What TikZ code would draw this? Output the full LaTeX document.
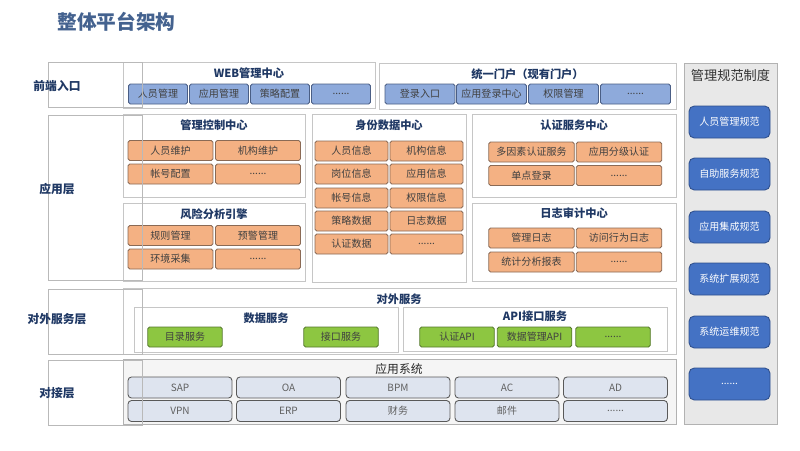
\documentclass[tikz,border=0pt]{standalone}
\usepackage{fontspec}
\setmainfont{Noto Sans CJK SC}
\usetikzlibrary{fit}
\definecolor{navy}{HTML}{1F3864}
\definecolor{slate}{HTML}{44628F}
\definecolor{frontfill}{HTML}{8EAADB}
\definecolor{frontline}{HTML}{4A5E85}
\definecolor{orfill}{HTML}{F4B183}
\definecolor{orline}{HTML}{8A6A55}
\definecolor{grfill}{HTML}{8DC641}
\definecolor{grline}{HTML}{55792C}
\definecolor{sysfill}{HTML}{DEE4EF}
\definecolor{rbfill}{HTML}{4472C4}
\definecolor{rbline}{HTML}{2F4F8C}
\newcommand\moredots{......}
\tikzset{
  panel/.style={draw=gray!45, fill=white, inner sep=0pt, line width=0.5pt},
  layerbox/.style={draw=gray!55, inner sep=0pt, line width=0.5pt},
  ttl/.style={text=navy, font=\bfseries\fontsize{6.4}{7}\selectfont},
  layer/.style={text=navy, font=\bfseries\fontsize{6.7}{7}\selectfont},
  item/.style={rounded corners=1pt, inner sep=0pt, minimum height=0.4cm, text=black!75, font=\fontsize{5.7}{6}\selectfont, line width=0.5pt},
  frontbox/.style={item, draw=frontline, fill=frontfill},
  orbox/.style={item, draw=orline, fill=orfill},
  grbox/.style={item, draw=grline, fill=grfill, minimum width=1.49cm},
  sysbox/.style={item, draw=gray!70!black, fill=sysfill, rounded corners=2pt, minimum width=2.08cm, minimum height=0.42cm, text=gray!75!black},
  rulebox/.style={item, draw=rbline, fill=rbfill, rounded corners=3pt, minimum width=1.62cm, minimum height=0.64cm, text=white}
}
\begin{document}
\begin{tikzpicture}[x=0.02cm, y=-0.02cm]
\useasboundingbox (0,0) rectangle (800,450);
\node[anchor=west, inner sep=0pt, text=slate, font=\bfseries\fontsize{11.2}{12}\selectfont] (title) at (57,22) {整体平台架构};

\node[panel, fill=gray!18, draw=gray!60, fit={(684,63) (777,424)}] (rules) {};
\node[text=gray!40!black, font=\fontsize{7.5}{8}\selectfont] (rulesttl) at (730.5,75) {管理规范制度};
\foreach \y/\t [count=\i] in {122/人员管理规范, 174/自助服务规范, 227/应用集成规范, 279/系统扩展规范, 332/系统运维规范, 384/\moredots}
  \node[rulebox] (rule\i) at (729.5,\y) {\t};

\node[panel, fit={(123,62) (375,108)}] (web) {};
\node[ttl] (webttl) at (249,73) {WEB管理中心};
\foreach \x/\t [count=\i] in {158/人员管理, 219/应用管理, 280/策略配置, 341/\moredots}
  \node[frontbox, minimum width=1.18cm] (web\i) at (\x,94) {\t};

\node[panel, fit={(379,63) (676,109)}] (portal) {};
\node[ttl] (portalttl) at (527.5,74) {统一门户（现有门户）};
\foreach \x/\t [count=\i] in {420/登录入口, 491.5/应用登录中心, 563.5/权限管理, 635.5/\moredots}
  \node[frontbox, minimum width=1.4cm] (portal\i) at (\x,94) {\t};

\node[panel, fit={(123,114) (305,197)}] (mgmt) {};
\node[ttl] (mgmtttl) at (214,125) {管理控制中心};
\foreach \x/\y/\t [count=\i] in {170.5/150.5/人员维护, 258/150.5/机构维护, 170.5/174/帐号配置, 258/174/\moredots}
  \node[orbox, minimum width=1.7cm] (mgmt\i) at (\x,\y) {\t};

\node[panel, fit={(123,203) (305,281)}] (risk) {};
\node[ttl] (riskttl) at (214,214) {风险分析引擎};
\foreach \x/\y/\t [count=\i] in {170.5/235.5/规则管理, 258/235.5/预警管理, 170.5/259/环境采集, 258/259/\moredots}
  \node[orbox, minimum width=1.7cm] (risk\i) at (\x,\y) {\t};

\node[panel, fit={(312,114) (466,282)}] (ident) {};
\node[ttl] (identttl) at (389,125) {身份数据中心};
\foreach \x/\y/\t [count=\i] in {351.5/151/人员信息, 426.5/151/机构信息, 351.5/174/岗位信息, 426.5/174/应用信息, 351.5/198/帐号信息, 426.5/198/权限信息, 351.5/221/策略数据, 426.5/221/日志数据, 351.5/244/认证数据, 426.5/244/\moredots}
  \node[orbox, minimum width=1.46cm] (ident\i) at (\x,\y) {\t};

\node[panel, fit={(472,114) (676,197)}] (auth) {};
\node[ttl] (authttl) at (574,125) {认证服务中心};
\foreach \x/\y/\t [count=\i] in {531.5/152/多因素认证服务, 619/152/应用分级认证, 531.5/175.5/单点登录, 619/175.5/\moredots}
  \node[orbox, minimum width=1.71cm] (auth\i) at (\x,\y) {\t};

\node[panel, fit={(472,203) (676,281)}] (audit) {};
\node[ttl] (auditttl) at (574,213) {日志审计中心};
\foreach \x/\y/\t [count=\i] in {531.5/238/管理日志, 619/238/访问行为日志, 531.5/262/统计分析报表, 619/262/\moredots}
  \node[orbox, minimum width=1.71cm] (audit\i) at (\x,\y) {\t};

\node[panel, fit={(123,288) (676,354)}] (outsvc) {};
\node[ttl] (outsvcttl) at (399,299) {对外服务};
\node[panel, fit={(134,307) (398,352)}] (datasvc) {};
\node[ttl] (datasvcttl) at (266,318) {数据服务};
\foreach \x/\t [count=\i] in {185/目录服务, 341/接口服务}
  \node[grbox] (datasvc\i) at (\x,337) {\t};
\node[panel, fit={(403,307) (667,351)}] (apisvc) {};
\node[ttl] (apisvcttl) at (535,316.5) {API接口服务};
\foreach \x/\t [count=\i] in {457/认证API, 534.5/数据管理API, 613/\moredots}
  \node[grbox] (apisvc\i) at (\x,337) {\t};

\node[panel, fill=gray!8, draw=gray!60, fit={(123,359) (676,424)}] (appsys) {};
\node[text=black!85, font=\fontsize{6.7}{7}\selectfont] (appsysttl) at (399,369) {应用系统};
\foreach \x/\t [count=\i] in {180/SAP, 288.5/OA, 398/BPM, 507/AC, 615.5/AD}
  \node[sysbox] (sysa\i) at (\x,387.5) {\t};
\foreach \x/\t [count=\i] in {180/VPN, 288.5/ERP, 398/财务, 507/邮件, 615.5/\moredots}
  \node[sysbox] (sysb\i) at (\x,411) {\t};

\node[layerbox, fit={(48,62) (142,107)}] (front) {};
\node[layer] (frontlbl) at (57,86) {前端入口};
\node[layerbox, fit={(48,115) (142,280)}] (app) {};
\node[layer] (applbl) at (57,189) {应用层};
\node[layerbox, fit={(48,289) (142,354)}] (service) {};
\node[layer] (servicelbl) at (57,319) {对外服务层};
\node[layerbox, fit={(48,360) (142,425)}] (dock) {};
\node[layer] (docklbl) at (57,393) {对接层};
\end{tikzpicture}
\end{document}
